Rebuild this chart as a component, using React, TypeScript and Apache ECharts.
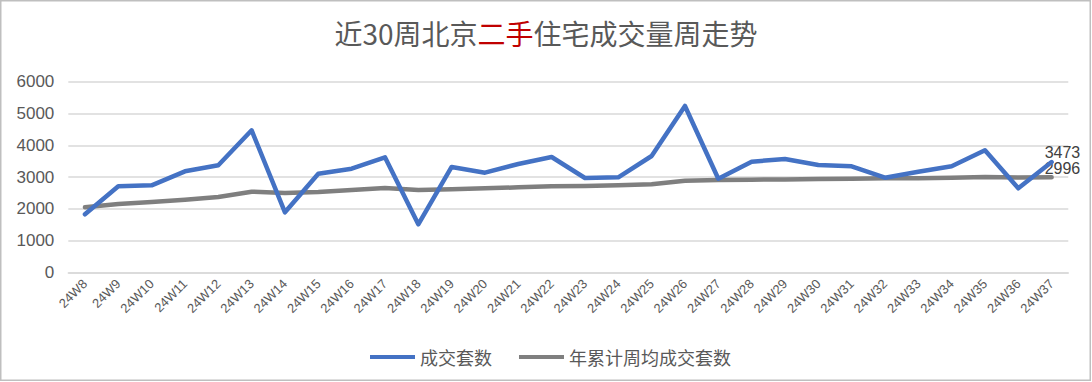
import React, { useEffect, useRef } from "react";
import * as echarts from "echarts";

const categories = [
  "24W8", "24W9", "24W10", "24W11", "24W12", "24W13", "24W14", "24W15", "24W16", "24W17",
  "24W18", "24W19", "24W20", "24W21", "24W22", "24W23", "24W24", "24W25", "24W26", "24W27",
  "24W28", "24W29", "24W30", "24W31", "24W32", "24W33", "24W34", "24W35", "24W36", "24W37",
];

const weeklyDeals = [
  1830, 2711, 2742, 3182, 3371, 4472, 1893, 3107, 3264, 3622,
  1515, 3318, 3139, 3412, 3632, 2972, 2993, 3664, 5236, 2950,
  3485, 3569, 3380, 3339, 2982, 3170, 3339, 3842, 2647, 3473,
];

const ytdWeeklyAvg = [
  2050, 2154, 2217, 2290, 2374, 2541, 2500, 2531, 2594, 2657,
  2594, 2615, 2647, 2678, 2710, 2720, 2742, 2773, 2887, 2909,
  2919, 2925, 2940, 2950, 2960, 2965, 2980, 3000, 2985, 2996,
];

const yTicks = [0, 1000, 2000, 3000, 4000, 5000, 6000];
const seriesNames = ["成交套数", "年累计周均成交套数"];

const FONT = "'Liberation Sans', 'Noto Sans CJK SC', sans-serif";
const CJK = "'Noto Sans CJK SC', 'Liberation Sans', sans-serif";

function endLabel(offsetY: number) {
  return {
    show: true,
    distance: 0,
    offset: [-7, offsetY],
    color: "#404040",
    fontSize: 16,
    lineHeight: 14,
    fontFamily: FONT,
    formatter: (p: any) => String(p.value),
  };
}

export default function App() {
  const ref = useRef<HTMLDivElement>(null);
  useEffect(() => {
    if (!ref.current) return;
    const chart = echarts.init(ref.current, null, { renderer: "svg" });
    chart.setOption({
      animation: false,
      backgroundColor: "#ffffff",
      title: {
        text: "近30周北京{r|二手}住宅成交量周走势",
        left: "center",
        top: 14,
        textStyle: {
          color: "#595959",
          fontSize: 28,
          fontWeight: "normal",
          fontFamily: CJK,
          rich: {
            r: { color: "#C00000", fontSize: 28, fontFamily: CJK },
          },
        },
      },
      legend: {
        left: 365,
        top: 343,
        icon: "rect",
        itemWidth: 45,
        itemHeight: 4,
        itemGap: 27,
        textStyle: { color: "#595959", fontSize: 18, fontFamily: CJK },
        data: seriesNames,
      },
      grid: {
        left: 68.3,
        right: 23.7,
        top: 81.7,
        bottom: 109.5,
        containLabel: false,
      },
      xAxis: {
        type: "category",
        data: categories,
        boundaryGap: true,
        axisLine: { show: true, lineStyle: { color: "#d9d9d9", width: 1.5 } },
        axisTick: { show: false },
        axisLabel: {
          rotate: 45,
          interval: 0,
          margin: 9,
          color: "#595959",
          fontSize: 13,
          fontFamily: FONT,
        },
      },
      yAxis: {
        type: "value",
        min: yTicks[0],
        max: yTicks[yTicks.length - 1],
        interval: 1000,
        axisLine: { show: false },
        axisTick: { show: false },
        splitLine: { lineStyle: { color: "#d9d9d9", width: 1.5 } },
        axisLabel: {
          color: "#595959",
          fontSize: 17,
          margin: 14,
          fontFamily: FONT,
          formatter: (v: number) => String(v),
        },
      },
      series: [
        {
          name: seriesNames[0],
          type: "line",
          data: weeklyDeals,
          symbol: "none",
          color: "#4472C4",
          lineStyle: { width: 4.5, color: "#4472C4", cap: "round", join: "round" },
          endLabel: endLabel(-10),
          z: 3,
        },
        {
          name: seriesNames[1],
          type: "line",
          data: ytdWeeklyAvg,
          symbol: "none",
          color: "#7F7F7F",
          lineStyle: { width: 4.5, color: "#7F7F7F", cap: "round", join: "round" },
          endLabel: endLabel(-9),
          z: 2,
        },
      ],
      graphic: [
        {
          type: "rect",
          shape: { x: 0.75, y: 0.75, width: 1089.5, height: 379.5 },
          style: { fill: "none", stroke: "#bfbfbf", lineWidth: 1.5 },
          silent: true,
        },
      ],
    });
    return () => chart.dispose();
  }, []);
  return (
    <div
      ref={ref}
      style={{ position: "fixed", left: 0, top: 0, width: 1092, height: 382 }}
    />
  );
}
